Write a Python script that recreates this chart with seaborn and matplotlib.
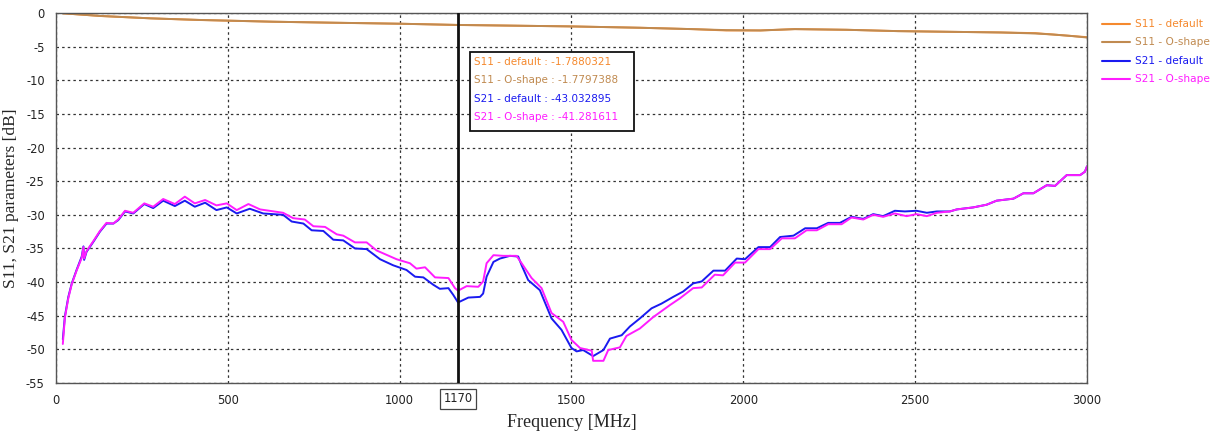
import numpy as np
import pandas as pd
import matplotlib
matplotlib.use("Agg")
import matplotlib.pyplot as plt
import seaborn as sns
from matplotlib.patches import Rectangle

# ---- measured S-parameters (frequency in MHz, magnitude in dB) ----
s11_default_f = [20, 130, 275, 420, 630, 800, 1000, 1170, 1350, 1500, 1700, 1850, 1950,
                 2050, 2150, 2300, 2450, 2600, 2750, 2850, 2900, 2950, 3000]
s11_default_db = [-0.05, -0.45, -0.8, -1.05, -1.3, -1.45, -1.6, -1.788, -1.9, -2.0, -2.2, -2.4, -2.6,
                  -2.6, -2.4, -2.5, -2.7, -2.8, -2.9, -3.0, -3.2, -3.4, -3.6]

s11_oshape_f = s11_default_f
s11_oshape_db = [-0.05, -0.45, -0.8, -1.04, -1.3, -1.44, -1.6, -1.780, -1.9, -2.0, -2.2, -2.4, -2.55,
                 -2.6, -2.4, -2.5, -2.7, -2.8, -2.9, -3.05, -3.2, -3.4, -3.65]

s21_default_f = [20, 26, 36, 46, 60, 75, 80, 82, 89, 109, 128, 147, 167, 181, 201, 225, 257, 283,
                 312, 346, 375, 404, 434, 467, 497, 526, 564, 603, 661, 686, 720, 744, 778, 807,
                 836, 870, 904, 943, 981, 1020, 1045, 1069, 1098, 1117, 1142, 1156, 1170, 1200,
                 1234, 1243, 1253, 1273, 1292, 1321, 1345, 1355, 1374, 1408, 1442, 1471, 1500,
                 1515, 1534, 1563, 1593, 1612, 1646, 1670, 1699, 1733, 1762, 1796, 1825, 1854,
                 1879, 1913, 1947, 1981, 2005, 2044, 2078, 2107, 2146, 2180, 2214, 2247, 2281,
                 2315, 2349, 2378, 2407, 2441, 2470, 2504, 2534, 2563, 2601, 2621, 2669, 2708,
                 2737, 2786, 2815, 2844, 2883, 2907, 2941, 2980, 2994, 3000]
s21_default_db = [-48.5, -45.1, -42.2, -40.2, -38.2, -36.2, -34.7, -36.7, -35.5, -34.0, -32.5, -31.3,
                  -31.3, -30.8, -29.5, -29.8, -28.4, -29.0, -27.9, -28.7, -27.9, -28.8, -28.2, -29.3,
                  -28.9, -29.8, -29.1, -29.8, -30.0, -31.0, -31.3, -32.3, -32.4, -33.7, -33.8, -35.0,
                  -35.1, -36.6, -37.5, -38.2, -39.2, -39.3, -40.4, -41.0, -40.9, -41.9, -43.03,
                  -42.3, -42.2, -41.7, -39.2, -37.0, -36.5, -36.1, -36.2, -37.5, -39.7, -41.2,
                  -45.4, -47.1, -49.8, -50.3, -50.1, -51.0, -50.1, -48.4, -47.9, -46.6, -45.4,
                  -43.9, -43.2, -42.2, -41.4, -40.2, -39.9, -38.3, -38.3, -36.5, -36.6, -34.8,
                  -34.8, -33.3, -33.1, -32.0, -32.0, -31.2, -31.2, -30.3, -30.6, -29.9, -30.2,
                  -29.4, -29.5, -29.4, -29.7, -29.5, -29.5, -29.2, -28.9, -28.5, -27.9, -27.6,
                  -26.8, -26.8, -25.6, -25.7, -24.1, -24.1, -23.6, -22.8]

s21_oshape_f = [20, 26, 36, 46, 60, 75, 80, 82, 89, 109, 128, 147, 167, 181, 201, 225, 257, 283,
                312, 346, 375, 404, 434, 467, 497, 526, 560, 594, 661, 690, 724, 749, 783, 817,
                836, 870, 904, 933, 991, 1030, 1049, 1074, 1103, 1142, 1161, 1170, 1195, 1229,
                1243, 1253, 1273, 1302, 1340, 1355, 1384, 1413, 1442, 1476, 1500, 1525, 1559,
                1563, 1593, 1607, 1641, 1660, 1699, 1738, 1787, 1816, 1854, 1879, 1917, 1941,
                1976, 2005, 2044, 2078, 2112, 2150, 2184, 2214, 2247, 2286, 2315, 2349, 2378,
                2407, 2441, 2475, 2504, 2534, 2563, 2601, 2621, 2669, 2708, 2737, 2786, 2815,
                2844, 2883, 2907, 2941, 2980, 2994, 3000]
s21_oshape_db = [-49.2, -45.3, -42.4, -40.3, -38.3, -36.4, -34.8, -36.5, -35.4, -33.9, -32.4, -31.2,
                 -31.3, -30.7, -29.4, -29.7, -28.3, -28.8, -27.65, -28.4, -27.3, -28.3, -27.8, -28.6,
                 -28.3, -29.3, -28.4, -29.2, -29.7, -30.5, -30.7, -31.7, -31.8, -32.9, -33.1, -34.1,
                 -34.1, -35.3, -36.6, -37.2, -38.0, -37.8, -39.3, -39.4, -40.9, -41.28, -40.6,
                 -40.7, -39.9, -37.2, -36.0, -36.1, -36.1, -37.2, -39.4, -40.9, -44.6, -45.9,
                 -48.6, -49.8, -50.2, -51.7, -51.7, -50.1, -49.7, -48.0, -46.9, -45.2, -43.4,
                 -42.4, -40.9, -40.8, -38.9, -39.0, -37.1, -37.1, -35.1, -35.1, -33.5, -33.5,
                 -32.3, -32.3, -31.4, -31.4, -30.4, -30.7, -30.0, -30.3, -29.8, -30.2, -29.9,
                 -30.2, -29.7, -29.5, -29.2, -28.9, -28.5, -27.9, -27.6, -26.8, -26.8, -25.6,
                 -25.7, -24.1, -24.1, -23.6, -22.8]

series_names = ["S11 - default", "S11 - O-shape", "S21 - default", "S21 - O-shape"]
series_colors = ["#F5892E", "#C08A50", "#1A1AF0", "#FF1CFF"]
cursor_freq = 1170
cursor_values = ["-1.7880321", "-1.7797388", "-43.032895", "-41.281611"]
x_ticks = [0, 500, 1000, 1500, 2000, 2500, 3000]
y_ticks = list(range(-55, 1, 5))

frames = []
for name, f, v in zip(series_names,
                      [s11_default_f, s11_oshape_f, s21_default_f, s21_oshape_f],
                      [s11_default_db, s11_oshape_db, s21_default_db, s21_oshape_db]):
    assert len(f) == len(v), name
    frames.append(pd.DataFrame({"Frequency": f, "dB": v, "series": name}))
df = pd.concat(frames, ignore_index=True)

sns.set_style("white")
plt.rcParams["font.family"] = ["DejaVu Sans"]

fig = plt.figure(figsize=(12.19, 4.32), dpi=100)
ax = fig.add_axes([0.0459, 0.1134, 0.8458, 0.8566])

sns.lineplot(data=df, x="Frequency", y="dB", hue="series", hue_order=series_names,
             palette=dict(zip(series_names, series_colors)), linewidth=1.4,
             legend=False, sort=True, estimator=None, ax=ax)

ax.set_xlim(0, 3000)
ax.set_ylim(-55, 0)
ax.set_xticks(x_ticks)
ax.set_yticks(y_ticks)
ax.set_xticklabels([str(t) for t in x_ticks])
ax.set_yticklabels([str(t) for t in y_ticks])
ax.tick_params(axis="both", labelsize=8.3, colors="#222222", length=3, width=0.8, pad=5)
ax.tick_params(axis="x", length=0, pad=8)
ax.grid(True, color="#333333", linestyle=(0, (2, 2.5)), linewidth=0.9)
for side in ["left", "bottom", "top", "right"]:
    ax.spines[side].set_color("#555555")
    ax.spines[side].set_linewidth(1.0)

ax.set_xlabel("Frequency [MHz]", family="Liberation Serif", fontsize=13, labelpad=5)
ax.set_ylabel("S11, S21 parameters [dB]", family="Liberation Serif", fontsize=12.5)
ax.yaxis.set_label_coords(-0.036, 0.5)

# cursor line and its frequency tag
ax.axvline(cursor_freq, color="#111111", linewidth=2.0, zorder=5)
ax.annotate(str(cursor_freq), xy=(cursor_freq, 0), xycoords=("data", "axes fraction"),
            xytext=(0, -11.5), textcoords="offset points", ha="center", va="center",
            fontsize=8.3, color="#222222",
            bbox=dict(boxstyle="square,pad=0.3", fc="white", ec="#444444", lw=0.9))

# cursor readout box
box_x = 0.4017
ax.add_patch(Rectangle((box_x, 0.682), 0.159, 0.213, transform=ax.transAxes,
                       facecolor="white", edgecolor="#111111", linewidth=1.3, zorder=6))
for i, (name, col, val) in enumerate(zip(series_names, series_colors, cursor_values)):
    ax.text(box_x + 0.004, 0.867 - i * 0.0495, f"{name} : {val}", transform=ax.transAxes,
            color=col, fontsize=7.5, va="center", ha="left", zorder=7)

# legend at the right of the plot
for i, (name, col) in enumerate(zip(series_names, series_colors)):
    yy = 1 - (24 + i * 18.3) / 432
    fig.add_artist(plt.Line2D([1102 / 1219, 1130 / 1219], [yy, yy], color=col, linewidth=1.5))
    fig.text(1135 / 1219, yy, name, color=col, fontsize=7.6, va="center", ha="left")

fig.savefig("out.png", dpi=100)
